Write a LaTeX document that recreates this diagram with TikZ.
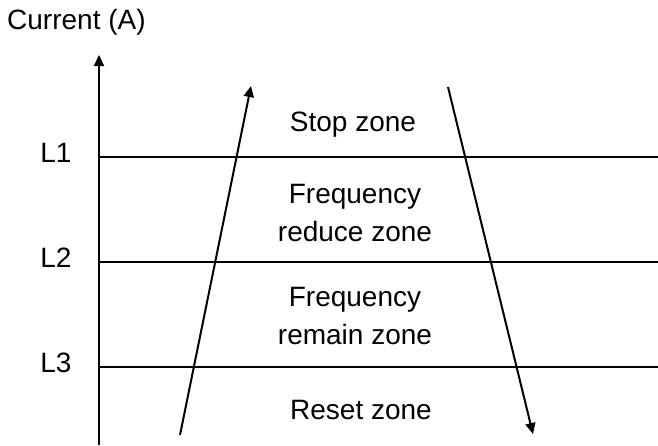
\documentclass[tikz,border=0pt]{standalone}
\usepackage{fontspec}
\setmainfont{Liberation Sans}
\usetikzlibrary{arrows.meta}
\tikzset{
  zonetext/.style={font=\fontsize{28}{33}\selectfont, inner sep=0pt},
  levelline/.style={line width=2pt},
  trendarrow/.style={line width=2pt, -{Triangle[length=11pt,width=10pt]}}
}
\begin{document}
\begin{tikzpicture}[x=1pt, y=-1pt]
    \useasboundingbox (0, 0) rectangle (658, 445);
    % axis end points
    \coordinate (axisbottom) at (99, 445);
    \coordinate (axistop) at (99, 55);
    % y-axis
    \draw [trendarrow] (axisbottom) -- (axistop);
    % axis label
    \node [zonetext, anchor=west] (axislabel) at (7, 22) {Current (A)};
    % level lines with labels
    \foreach \name/\y in {L1/157, L2/262, L3/367} {
        \coordinate (\name start) at (99, \y);
        \coordinate (\name end) at (658, \y);
        \draw [levelline] (\name start) -- (\name end);
        \node [zonetext] (\name label) at (56, \y-4) {\name};
    }
    % rising current arrow
    \coordinate (risebottom) at (180, 435);
    \coordinate (risetop) at (251, 86);
    \draw [trendarrow] (risebottom) -- (risetop);
    % falling current arrow
    \coordinate (falltop) at (448, 87);
    \coordinate (fallbottom) at (533, 434);
    \draw [trendarrow] (falltop) -- (fallbottom);
    % zone labels
    \node [zonetext] (stopzone) at (353, 125) {Stop zone};
    \node [zonetext, align=center] (reducezone) at (355, 213) {Frequency\\[5pt]reduce zone};
    \node [zonetext, align=center] (remainzone) at (355, 316) {Frequency\\[5pt]remain zone};
    \node [zonetext] (resetzone) at (361, 410) {Reset zone};
\end{tikzpicture}
\end{document}
